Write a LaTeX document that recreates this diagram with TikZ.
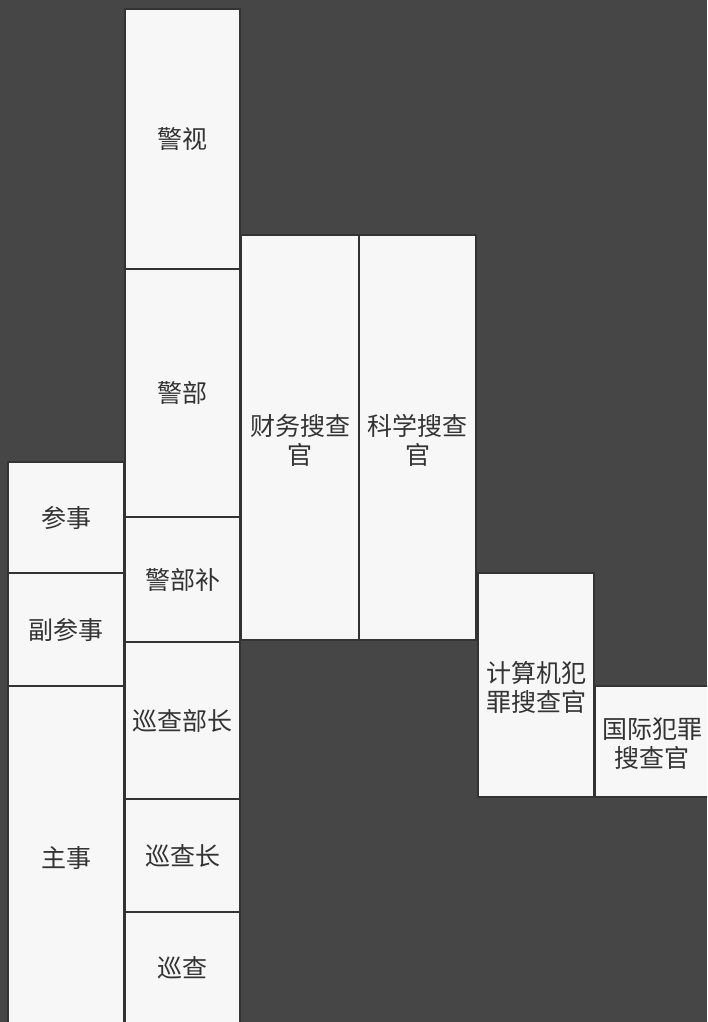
\documentclass[tikz,border=0pt]{standalone}
\usepackage{fontspec}
\newfontfamily\cjk{Noto Sans CJK SC}
\definecolor{bgdark}{HTML}{464646}
\definecolor{boxfill}{HTML}{F7F7F7}
\definecolor{boxline}{HTML}{333333}
\definecolor{txt}{HTML}{333333}
\tikzset{
  cell/.style={fill=boxfill, draw=boxline, line width=1.6pt},
  lbl/.style={text=txt, align=center, font=\cjk\fontsize{25}{29}\selectfont, inner sep=0pt}
}
\newcommand{\cellbox}[6]{%
  \path[cell] (#2,#3) rectangle (#4,#5);
  \node[lbl] (#1) at ({(#2+#4)/2},{(#3+#5)/2}) {#6};
}
\begin{document}
\begin{tikzpicture}[x=1pt,y=-1pt]
\useasboundingbox (0,0) rectangle (707,1022);
\fill[bgdark] (0,0) rectangle (707,1022);
\begin{scope}
\clip (0,0) rectangle (707,1022);
\cellbox{canshi}{8}{462}{124}{573}{参事}
\cellbox{fucanshi}{8}{573}{124}{686}{副参事}
\path[cell] (8,686) rectangle (124,1030);
\node[lbl] (zhushi) at (66,858) {主事};
\cellbox{jingshi}{125}{9}{240}{269}{警视}
\cellbox{jingbu}{125}{269}{240}{517}{警部}
\cellbox{jingbubu}{125}{517}{240}{642}{警部补}
\cellbox{xunchabuzhang}{125}{642}{240}{799}{巡查部长}
\cellbox{xunchazhang}{125}{799}{240}{912}{巡查长}
\path[cell] (125,912) rectangle (240,1030);
\node[lbl] (xuncha) at (182.5,968) {巡查};
\path[cell] (241,235) rectangle (359,640);
\node[lbl] (caiwu) at (300,440) {财务搜查\\官};
\path[cell] (359,235) rectangle (476,640);
\node[lbl] (kexue) at (417.5,440) {科学搜查\\官};
\path[cell] (478,573) rectangle (594,797);
\node[lbl] (jisuanji) at (536,687) {计算机犯\\罪搜查官};
\path[cell] (595,686) rectangle (712,797);
\node[lbl] (guoji) at (652,744) {国际犯罪\\搜查官};
\end{scope}
\end{tikzpicture}
\end{document}
